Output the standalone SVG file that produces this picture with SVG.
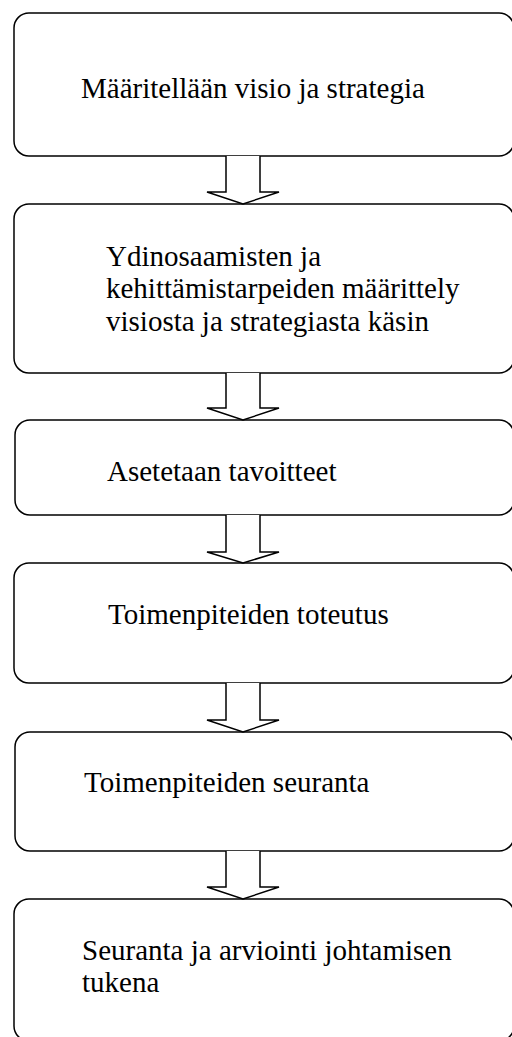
<svg xmlns="http://www.w3.org/2000/svg" width="512" height="1037" viewBox="0 0 512 1037">
  <style>
    .box { fill: #ffffff; stroke: #000000; stroke-width: 1.5; }
    .arrow { fill: #ffffff; stroke: #000000; stroke-width: 1.5; stroke-linejoin: miter; }
    .label { font-family: "Liberation Serif", "Times New Roman", serif; font-size: 29px; fill: #000000; }
  </style>
  <rect width="512" height="1037" fill="#ffffff"/>

  <!-- flow steps -->
  <g id="step-visio">
    <rect class="box" x="14" y="13" width="500" height="143" rx="15" ry="15"/>
    <text class="label" x="81" y="98">Määritellään visio ja strategia</text>
  </g>

  <g id="step-ydinosaamiset">
    <rect class="box" x="14" y="204" width="500" height="169" rx="15" ry="15"/>
    <text class="label" x="106" y="266">Ydinosaamisten ja</text>
    <text class="label" x="106" y="298">kehittämistarpeiden määrittely</text>
    <text class="label" x="106" y="331">visiosta ja strategiasta käsin</text>
  </g>

  <g id="step-tavoitteet">
    <rect class="box" x="15" y="420" width="499" height="95" rx="15" ry="15"/>
    <text class="label" x="107" y="481">Asetetaan tavoitteet</text>
  </g>

  <g id="step-toteutus">
    <rect class="box" x="14" y="563" width="500" height="120" rx="15" ry="15"/>
    <text class="label" x="108" y="624">Toimenpiteiden toteutus</text>
  </g>

  <g id="step-seuranta">
    <rect class="box" x="15" y="732" width="499" height="119" rx="15" ry="15"/>
    <text class="label" x="84" y="792">Toimenpiteiden seuranta</text>
  </g>

  <g id="step-arviointi">
    <rect class="box" x="14" y="899" width="500" height="142" rx="15" ry="15"/>
    <text class="label" x="82" y="960">Seuranta ja arviointi johtamisen</text>
    <text class="label" x="82" y="992">tukena</text>
  </g>

  <!-- block arrows between steps -->
  <g id="connectors">
    <path class="arrow" d="M226,156 V192 H207 L243,204 L279,192 H260 V156"/>
    <path class="arrow" d="M226,373 V408 H207 L243,420 L279,408 H260 V373"/>
    <path class="arrow" d="M226,515 V552 H207 L243,563 L279,552 H260 V515"/>
    <path class="arrow" d="M226,683 V720 H207 L243,732 L279,720 H260 V683"/>
    <path class="arrow" d="M226,851 V887 H207 L243,899 L279,887 H260 V851"/>
  </g>
</svg>
